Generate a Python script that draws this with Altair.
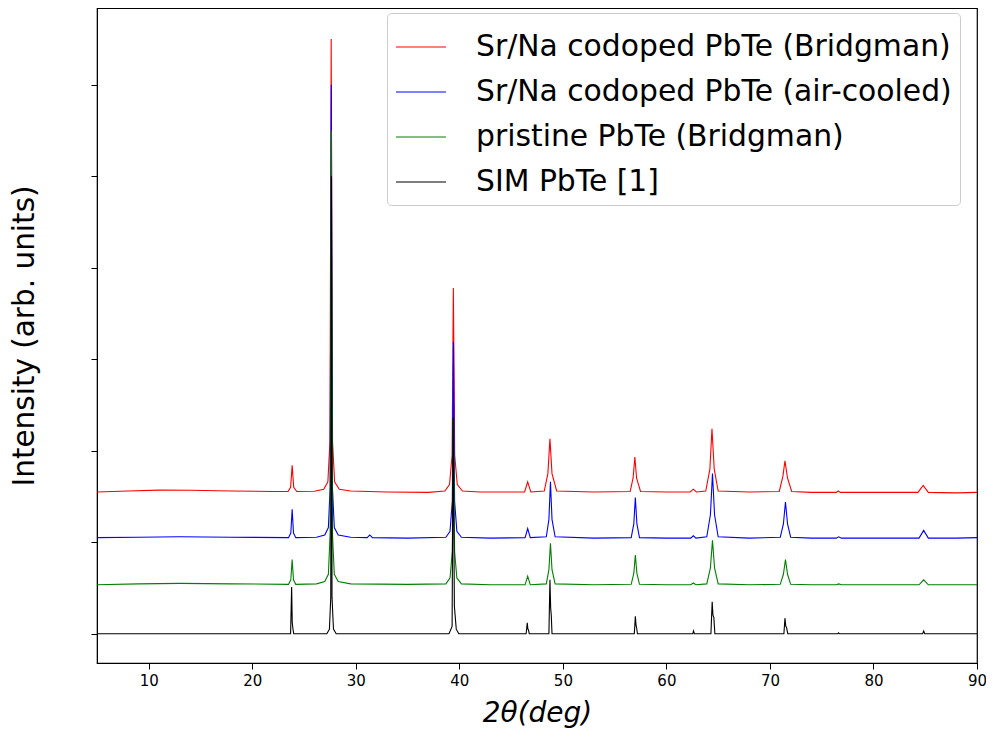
import altair as alt
import pandas as pd

# ---- data ----
series_names = [
    "Sr/Na codoped PbTe (Bridgman)",
    "Sr/Na codoped PbTe (air-cooled)",
    "pristine PbTe (Bridgman)",
    "SIM PbTe [1]",
]
series_colors = ["#ff0000", "#0000ff", "#008000", "#000000"]
series_offsets = [1.5, 1.0, 0.5, 0.0]

# (2theta in deg, normalised intensity) pairs
red_points = [
    (5, 0.05), (8, 0.06), (11, 0.07), (14, 0.068), (18, 0.06), (22, 0.055),
    (23.45, 0.055), (23.7, 0.1), (23.85, 0.34), (24.0, 0.1), (24.3, 0.055),
    (26.0, 0.058), (26.9, 0.08), (27.3, 0.16), (27.5, 0.6), (27.62, 5.0),
    (27.75, 0.6), (27.95, 0.16), (28.4, 0.08), (29.5, 0.06), (33, 0.05),
    (37, 0.045), (38.6, 0.06), (39.05, 0.13), (39.3, 0.45), (39.42, 2.28),
    (39.55, 0.45), (39.8, 0.13), (40.3, 0.06), (42, 0.05), (46.3, 0.05),
    (46.6, 0.16), (46.9, 0.05), (48.2, 0.06), (48.55, 0.25), (48.75, 0.63),
    (48.95, 0.25), (49.4, 0.06), (53, 0.05), (56.5, 0.055), (56.78, 0.2),
    (56.95, 0.43), (57.12, 0.2), (57.5, 0.055), (60, 0.05), (62.3, 0.05),
    (62.6, 0.08), (62.9, 0.05), (63.8, 0.06), (64.2, 0.3), (64.4, 0.74),
    (64.62, 0.3), (65.0, 0.06), (68, 0.05), (70.9, 0.055), (71.25, 0.22),
    (71.45, 0.39), (71.7, 0.2), (72.1, 0.055), (74, 0.045), (76.4, 0.045),
    (76.6, 0.06), (76.8, 0.045), (80, 0.045), (84.3, 0.045), (84.8, 0.12),
    (85.3, 0.045), (88, 0.04), (90, 0.045),
]
blue_points = [
    (5, 0.05), (9, 0.055), (13, 0.06), (18, 0.055), (23.5, 0.05),
    (23.72, 0.1), (23.85, 0.36), (23.98, 0.1), (24.2, 0.05), (26.2, 0.055),
    (27.0, 0.08), (27.35, 0.16), (27.52, 0.6), (27.63, 5.0), (27.74, 0.6),
    (27.92, 0.16), (28.3, 0.08), (29.5, 0.055), (31.1, 0.05), (31.35, 0.08),
    (31.6, 0.05), (35, 0.045), (38.7, 0.055), (39.1, 0.12), (39.32, 0.45),
    (39.43, 2.19), (39.54, 0.45), (39.76, 0.12), (40.2, 0.055), (43, 0.045),
    (46.35, 0.05), (46.6, 0.15), (46.85, 0.05), (48.4, 0.06), (48.65, 0.25),
    (48.8, 0.66), (48.95, 0.25), (49.25, 0.06), (53, 0.045), (56.6, 0.05),
    (56.85, 0.2), (57.0, 0.49), (57.15, 0.2), (57.4, 0.05), (60, 0.045),
    (62.35, 0.045), (62.6, 0.07), (62.85, 0.045), (63.9, 0.06), (64.25, 0.3),
    (64.45, 0.75), (64.65, 0.3), (65.0, 0.06), (68, 0.045), (71.0, 0.055),
    (71.3, 0.2), (71.5, 0.44), (71.7, 0.2), (72.0, 0.055), (74, 0.045),
    (76.4, 0.045), (76.65, 0.06), (76.9, 0.045), (80, 0.045), (84.4, 0.045),
    (84.85, 0.13), (85.3, 0.045), (88, 0.045), (90, 0.05),
]
green_points = [
    (5, 0.035), (9, 0.045), (13, 0.05), (18, 0.045), (23.5, 0.04),
    (23.72, 0.09), (23.85, 0.31), (23.98, 0.09), (24.2, 0.04), (26.2, 0.045),
    (27.0, 0.07), (27.35, 0.15), (27.52, 0.6), (27.63, 5.0), (27.74, 0.6),
    (27.92, 0.15), (28.3, 0.07), (29.5, 0.045), (35, 0.04), (38.7, 0.045),
    (39.1, 0.11), (39.32, 0.4), (39.43, 1.85), (39.54, 0.4), (39.76, 0.11),
    (40.2, 0.045), (43, 0.035), (46.35, 0.035), (46.6, 0.13), (46.85, 0.035),
    (48.4, 0.045), (48.65, 0.2), (48.8, 0.49), (48.95, 0.2), (49.25, 0.045),
    (53, 0.035), (56.6, 0.04), (56.85, 0.16), (57.0, 0.36), (57.15, 0.16),
    (57.4, 0.04), (60, 0.035), (62.35, 0.035), (62.6, 0.055), (62.85, 0.035),
    (63.9, 0.045), (64.25, 0.22), (64.45, 0.52), (64.65, 0.22), (65.0, 0.045),
    (68, 0.035), (71.0, 0.04), (71.3, 0.15), (71.5, 0.31), (71.7, 0.15),
    (72.0, 0.04), (74, 0.035), (76.4, 0.035), (76.65, 0.045), (76.9, 0.035),
    (80, 0.035), (84.4, 0.035), (84.85, 0.09), (85.3, 0.035), (88, 0.035),
    (90, 0.035),
]
black_points = [
    (5, 0.0), (23.7, 0.0), (23.8, 0.51), (23.86, 0.12), (23.92, 0.06),
    (24.0, 0.0), (27.2, 0.0), (27.45, 0.05), (27.58, 0.4), (27.64, 5.0),
    (27.7, 0.4), (27.84, 0.05), (28.1, 0.0), (39.0, 0.0), (39.3, 0.08),
    (39.4, 2.36), (39.47, 1.1), (39.52, 0.3), (39.7, 0.05), (39.95, 0.0),
    (46.45, 0.0), (46.56, 0.12), (46.62, 0.05), (46.68, 0.04), (46.75, 0.0),
    (48.65, 0.0), (48.75, 0.59), (48.82, 0.28), (48.88, 0.2), (48.95, 0.0),
    (56.9, 0.0), (57.0, 0.19), (57.07, 0.09), (57.13, 0.06), (57.2, 0.0),
    (62.55, 0.0), (62.62, 0.03), (62.7, 0.0), (64.3, 0.0), (64.42, 0.35),
    (64.5, 0.2), (64.58, 0.18), (64.68, 0.0), (71.35, 0.0), (71.45, 0.17),
    (71.53, 0.08), (71.6, 0.07), (71.72, 0.0), (76.55, 0.0), (76.62, 0.01),
    (76.7, 0.0), (84.75, 0.0), (84.85, 0.03), (84.95, 0.0), (90, 0.0),
]
series_points = [red_points, blue_points, green_points, black_points]

x_ticks = [10, 20, 30, 40, 50, 60, 70, 80, 90]
y_ticks = [0, 1, 2, 3, 4, 5, 6]

rows = []
for name, off, pts in zip(series_names, series_offsets, series_points):
    for k, (x, y) in enumerate(pts):
        rows.append({"series": name, "idx": k, "two_theta": x, "intensity": y + off})
df = pd.DataFrame(rows)

FONT = "DejaVu Sans"
color_scale = alt.Scale(domain=series_names, range=series_colors)

x_enc = alt.X(
    "two_theta:Q",
    scale=alt.Scale(domain=[5, 90], nice=False, zero=False),
    axis=alt.Axis(
        values=x_ticks, title="2θ(deg)", titleFontSize=28, titleFontStyle="italic",
        titleFontWeight="normal", titlePadding=11, labelFontSize=15, labelPadding=4,
        tickSize=6, grid=False, labelFlush=False,
    ),
)
y_enc = alt.Y(
    "intensity:Q",
    scale=alt.Scale(domain=[-0.32, 6.84], nice=False, zero=False),
    axis=alt.Axis(
        values=y_ticks, labels=False, title="Intensity (arb. units)", titleFontSize=29.5,
        titleFontWeight="normal", titlePadding=51, tickSize=6, grid=False,
    ),
)
legend = alt.Legend(
    orient="none", legendX=290, legendY=5, title=None, symbolType="stroke",
    symbolSize=2500, symbolStrokeWidth=1.2, labelFontSize=29.8, labelFont=FONT,
    labelColor="black", strokeColor="#cccccc", fillColor="white", padding=8,
    cornerRadius=4, rowPadding=4, labelOffset=29, labelLimit=1000,
)

base = alt.Chart(df)
layers = []
for name in series_names:
    layers.append(
        base.transform_filter(alt.datum.series == name)
        .mark_line(strokeWidth=1.1, clip=True)
        .encode(
            x=x_enc,
            y=y_enc,
            color=alt.Color("series:N", scale=color_scale, legend=legend),
            order=alt.Order("idx:Q"),
        )
    )

chart = (
    alt.layer(*layers)
    .properties(
        width=880, height=655,
        autosize=alt.AutoSizeParams(type="none"),
        padding={"left": 89, "top": 0, "right": 9, "bottom": 70},
    )
    .configure(font=FONT, background="white")
    .configure_view(stroke="black", strokeWidth=1.2)
    .configure_axis(
        domainColor="black", tickColor="black", labelColor="black", titleColor="black",
        labelFont=FONT, titleFont=FONT,
    )
)

chart.save("out.html", embed_options={"renderer": "svg", "actions": False})
